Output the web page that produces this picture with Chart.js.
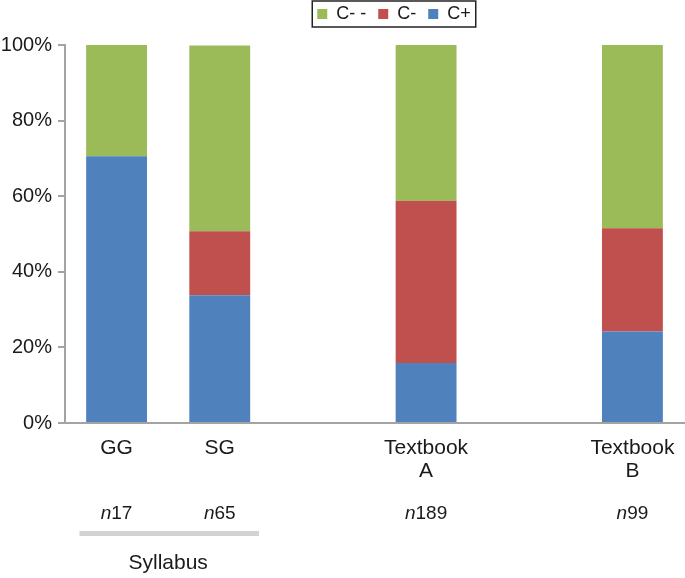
<!DOCTYPE html>
<html>
<head>
<meta charset="utf-8">
<script src="https://cdn.jsdelivr.net/npm/chart.js@4"></script>
<style>
  html, body { margin: 0; padding: 0; background: #fff; }
  #wrap { width: 685px; height: 578px; }
</style>
</head>
<body>
<div id="wrap"><canvas id="mycanvas"></canvas></div>
<script>
// categories (two empty slots keep the wide gaps between groups)
var categories = ['GG', 'SG', '', 'Textbook A', '', 'Textbook B'];
var tickLabels = [['GG'], ['SG'], '', ['Textbook', 'A'], '', ['Textbook', 'B']];
var sampleSizes = ['17', '65', '', '189', '', '99'];

// shares in percent
var cPlus = [70.6, 33.8, null, 15.9, null, 24.2];
var cMinus = [0, 16.9, null, 42.9, null, 27.3];
var cMinusMinus = [29.4, 49.2, null, 41.3, null, 48.5];

var yTicks = [0, 20, 40, 60, 80, 100];

var font = "'Liberation Sans', Arial, sans-serif";
var axisGrey = '#a3a3a3';

// draws the n-values, the syllabus bracket and the legend frame
var extras = {
  id: 'extras',
  afterLayout: function(chart) {
    // legend sits centred a bit right of the canvas middle, close to the top
    chart.legend.left += 52;
    chart.legend.right += 52;
    chart.legend.top -= 12;
    chart.legend.bottom -= 12;
  },
  afterDraw: function(chart) {
    var ctx = chart.ctx;
    var x = chart.scales.x;
    ctx.save();
    ctx.fillStyle = '#1a1a1a';
    ctx.textBaseline = 'middle';
    for (var i = 0; i < sampleSizes.length; i++) {
      if (!sampleSizes[i]) continue;
      var cx = x.getPixelForValue(i);
      ctx.font = 'italic 19px ' + font;
      var w1 = ctx.measureText('n').width;
      ctx.font = '19px ' + font;
      var w2 = ctx.measureText(sampleSizes[i]).width;
      var sx = cx - (w1 + w2) / 2;
      ctx.textAlign = 'left';
      ctx.font = 'italic 19px ' + font;
      ctx.fillText('n', sx, 514);
      ctx.font = '19px ' + font;
      ctx.fillText(sampleSizes[i], sx + w1, 514);
    }
    // syllabus bracket under GG and SG
    var slot = x.getPixelForValue(1) - x.getPixelForValue(0);
    var bx0 = x.getPixelForValue(0) - 0.36 * slot;
    var bx1 = x.getPixelForValue(1) + 0.38 * slot;
    ctx.fillStyle = '#d2d2d2';
    ctx.fillRect(bx0, 531, bx1 - bx0, 5);
    ctx.fillStyle = '#1a1a1a';
    ctx.textAlign = 'center';
    ctx.font = '21px ' + font;
    ctx.fillText('Syllabus', (x.getPixelForValue(0) + x.getPixelForValue(1)) / 2, 563);

    // legend frame
    var hb = chart.legend.legendHitBoxes;
    if (hb && hb.length) {
      var l = hb[0].left, r = hb[hb.length - 1].left + hb[hb.length - 1].width;
      var t = hb[0].top, b = hb[0].top + hb[0].height;
      ctx.strokeStyle = '#222';
      ctx.lineWidth = 1.5;
      ctx.strokeRect(l - 5, t - 4, r - l + 10, b - t + 8);
    }
    ctx.restore();
  }
};

var ctx = document.getElementById('mycanvas');
var chart = new Chart(ctx, {
  type: 'bar',
  data: {
    labels: categories,
    datasets: [{
      label: 'C+',
      data: cPlus,
      backgroundColor: '#4f81bd'
    }, {
      label: 'C-',
      data: cMinus,
      backgroundColor: '#c0504d'
    }, {
      label: 'C- -',
      data: cMinusMinus,
      backgroundColor: '#9bbb59'
    }]
  },
  options: {
    responsive: true,
    maintainAspectRatio: false,
    animation: false,
    layout: { padding: { top: 5, right: 1, bottom: 0, left: 0 } },
    datasets: {
      bar: { categoryPercentage: 1, barPercentage: 0.59 }
    },
    plugins: {
      tooltip: { enabled: false },
      legend: {
        position: 'top',
        reverse: true,
        labels: {
          boxWidth: 10,
          boxHeight: 10,
          padding: 12,
          color: '#1a1a1a',
          font: { family: font, size: 18 }
        }
      }
    },
    scales: {
      x: {
        stacked: true,
        grid: { display: false },
        border: { display: true, color: axisGrey, width: 2 },
        ticks: {
          color: '#1a1a1a',
          padding: 6,
          maxRotation: 0,
          autoSkip: false,
          font: { family: font, size: 21, lineHeight: 1.1 },
          callback: function(v, i) { return tickLabels[i]; }
        },
        afterFit: function(scale) { scale.height = 155; }
      },
      y: {
        stacked: true,
        min: 0,
        max: 100,
        grid: {
          drawOnChartArea: false,
          drawTicks: true,
          tickLength: 7,
          color: axisGrey,
          lineWidth: 2
        },
        border: { display: true, color: axisGrey, width: 2 },
        afterBuildTicks: function(scale) {
          scale.ticks = yTicks.map(function(v) { return { value: v }; });
        },
        ticks: {
          color: '#1a1a1a',
          padding: 6,
          font: { family: font, size: 20 },
          callback: function(v) { return v + '%'; }
        },
        afterFit: function(scale) { scale.width = 65; }
      }
    }
  },
  plugins: [extras]
});
</script>
</body>
</html>
